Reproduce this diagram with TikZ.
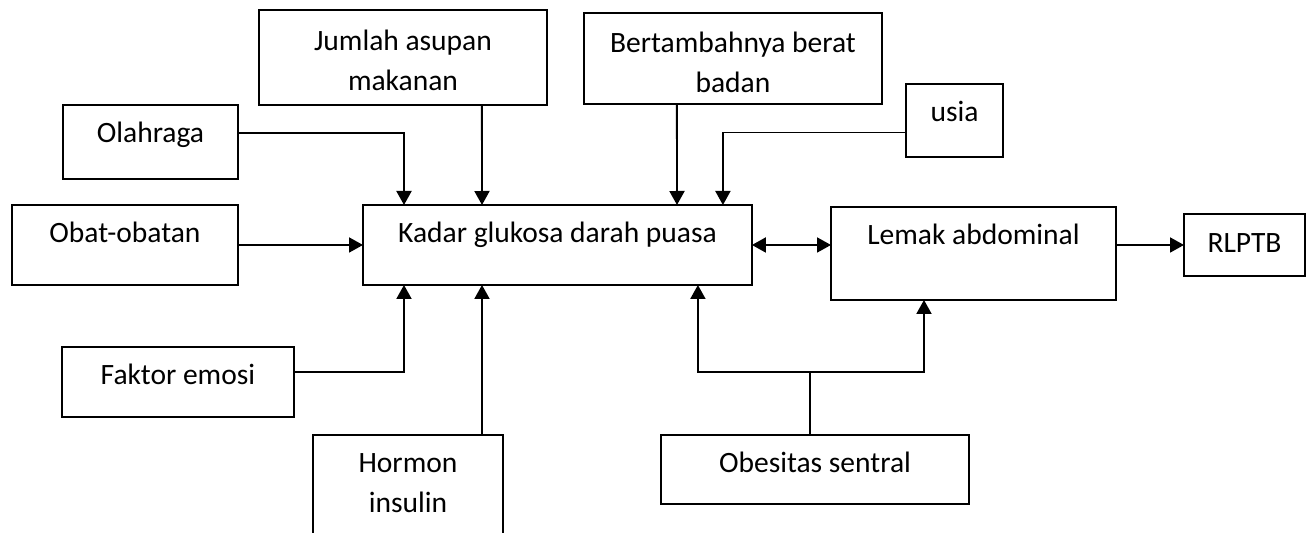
\documentclass[tikz,border=0pt]{standalone}
\usepackage{fontspec}
\setmainfont{Carlito}
\usetikzlibrary{arrows.meta,calc}
\tikzset{
    kotak/.style={draw,line width=1.1pt,inner sep=0pt,outer sep=0pt,anchor=north west,align=center,
        font=\fontsize{16.8}{23.3}\selectfont},
    garis/.style={line width=1.1pt},
    panah/.style={garis,-{Triangle[length=0.28cm,width=0.3cm]}},
    panahdua/.style={garis,{Triangle[length=0.28cm,width=0.3cm]}-{Triangle[length=0.28cm,width=0.3cm]}}
}
\begin{document}
\begin{tikzpicture}[x=0.02cm,y=-0.02cm]
\useasboundingbox (0,0) rectangle (1313,533);
\node[kotak,minimum width=5.76cm,text height=1.62cm,text depth=0.28cm] (jumlah) at (259,10){Jumlah asupan\\makanan};
\node[kotak,minimum width=5.96cm,text height=1.60cm,text depth=0.22cm] (tambah) at (584,13){Bertambahnya berat\\badan};
\node[kotak,minimum width=1.94cm,text height=0.76cm,text depth=0.70cm] (usia) at (906,84){usia};
\node[kotak,minimum width=3.50cm,text height=0.76cm,text depth=0.72cm] (olah) at (63,105){Olahraga};
\node[kotak,minimum width=4.52cm,text height=0.76cm,text depth=0.84cm] (obat) at (12,205){Obat-obatan};
\node[kotak,minimum width=7.78cm,text height=0.76cm,text depth=0.84cm] (kadar) at (363,205){Kadar glukosa darah puasa};
\node[kotak,minimum width=5.70cm,text height=0.76cm,text depth=1.10cm] (lemak) at (831,207){Lemak abdominal};
\node[kotak,minimum width=2.42cm,text height=0.78cm,text depth=0.46cm] (rlptb) at (1184,214){RLPTB};
\node[kotak,minimum width=4.64cm,text height=0.76cm,text depth=0.64cm] (emosi) at (62,347){Faktor emosi};
\node[kotak,minimum width=3.80cm,text height=1.56cm,text depth=0.94cm] (hormon) at (313,435){Hormon\\insulin};
\node[kotak,minimum width=6.16cm,text height=0.76cm,text depth=0.62cm] (obes) at (661,435){Obesitas sentral};

\draw[panah] ($(olah.east)+(0,-9)$) -| ($(kadar.north west)+(41,0)$);
\draw[panah] ($(jumlah.south east)+(-65,0)$) -- ($(kadar.north west)+(119,0)$);
\draw[panah] ($(tambah.south east)+(-205,0)$) -- ($(kadar.north west)+(314,0)$);
\draw[panah] ($(usia.west)+(0,12)$) -| ($(kadar.north east)+(-29,0)$);
\draw[panah] (obat.east) -- (kadar.west);
\draw[panahdua] (kadar.east) -- (kadar.east -| lemak.west);
\draw[panah] (rlptb.west -| lemak.east) -- (rlptb.west);
\draw[panah] ($(emosi.east)+(0,-10)$) -| ($(kadar.south west)+(41,0)$);
\draw[panah] ($(hormon.north west)+(169,0)$) -- ($(kadar.south west)+(119,0)$);
\draw[garis] ($(obes.north)+(-5,0)$) -- ++(0,-63) coordinate (cabang);
\draw[panah] (cabang) -| ($(kadar.south east)+(-54,0)$);
\draw[panah] (cabang) -| ($(lemak.south west)+(93,0)$);

\end{tikzpicture}
\end{document}
